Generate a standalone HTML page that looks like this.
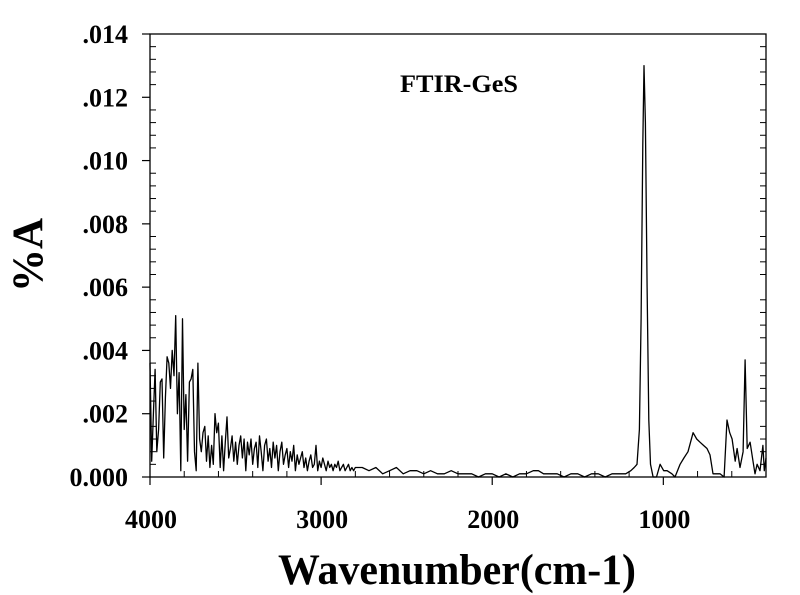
<!DOCTYPE html>
<html><head><meta charset="utf-8"><style>
html,body{margin:0;padding:0;background:#fff;}
svg{display:block;}
text{font-family:"Liberation Serif",serif;font-weight:bold;fill:#000;}
</style></head><body>
<svg id="chart" width="800" height="595" viewBox="0 0 800 595" xmlns="http://www.w3.org/2000/svg">
<text x="400" y="92" font-size="25" textLength="118" lengthAdjust="spacingAndGlyphs">FTIR-GeS</text>
<text transform="translate(42,255) rotate(-90)" text-anchor="middle" font-size="43">%A</text>
<text x="457" y="584" text-anchor="middle" font-size="43" textLength="358" lengthAdjust="spacingAndGlyphs">Wavenumber(cm-1)</text>
<g id="axes"></g>
<path id="spectrum" fill="none" stroke="#000" stroke-width="1.3" stroke-linejoin="round"></path>
</svg>
<script>
// dense region 4000 -> 2790, step 10
const denseStart = 4000, denseStep = 10;
const denseValues = [.0036,.0005,.0020,.0034,.0008,.0015,.0030,.0031,.0006,.0025,.0038,.0036,.0028,.0040,.0032,.0051,.0020,.0033,.0002,.0050,.0015,.0026,.0005,.0030,.0031,.0034,.0008,.0002,.0036,.0012,.0008,.0014,.0016,.0005,.0013,.0003,.0010,.0004,.0020,.0014,.0017,.0003,.0013,.0002,.0011,.0019,.0006,.0009,.0013,.0005,.0011,.0004,.0010,.0013,.0006,.0012,.0002,.0011,.0007,
.0012,.0004,.0009,.0011,.0003,.0013,.0008,.0002,.0010,.0012,.0005,.0009,.0003,.0011,.0006,.0010,.0002,.0008,.0011,.0004,.0007,.0009,.0003,.0008,.0005,.0010,.0002,.0007,.0004,.0006,.0008,.0003,.0006,.0002,.0005,.0007,.0003,.0004,.0010,.0002,.0005,.0003,.0006,.0004,.0002,.0005,.0003,.0004,.0002,.0004,.0003,.0005,.0002,.0003,.0004,.0002,.0003,.0004,.0002,.0003,.0002,.0003];
// sparse region, explicit wavenumbers
const sparseWn = [2760,2720,2680,2640,2600,2560,2520,2480,2440,2400,2360,2320,2280,2240,2200,2160,2120,2080,2040,2000,1960,1920,1880,1840,1800,1760,1730,1700,1660,1620,1580,1540,1500,1460,1420,1380,1340,1300,1260,1220,1190,1170,1154,1140,1130,1120,1113,1105,1095,1085,1075,1060,1040,1019,998,978,950,932,902,880,856,826,805,786,765,745,727,710,690,669,645,628,612,598,580,569,552,534,522,510,493,476,464,452,435,418,410,400];
const sparseValues = [.0003,.0002,.0003,.0001,.0002,.0003,.0001,.0002,.0002,.0001,.0002,.0001,.0001,.0002,.0001,.0001,.0001,.0000,.0001,.0001,.0000,.0001,.0000,.0001,.0001,.0002,.0002,.0001,.0001,.0001,.0000,.0001,.0001,.0000,.0001,.0001,.0000,.0001,.0001,.0001,.0002,.0003,.0004,.0015,.0050,.0105,.0130,.0112,.0060,.0018,.0004,.0000,.0000,.0004,.0002,.0002,.0001,.0000,.0004,.0006,.0008,.0014,.0012,.0011,.0010,.0009,.0007,.0001,.0001,.0001,.0000,.0018,.0014,.0012,.0005,.0009,.0003,.0008,.0037,.0009,.0011,.0005,.0001,.0004,.0002,.0010,.0002,.0006];
const yTicks = [0,0.002,0.004,0.006,0.008,0.010,0.012,0.014];
const yTickLabels = ["0.000",".002",".004",".006",".008",".010",".012",".014"];
const xTicks = [4000,3000,2000,1000];
const xTickLabels = ["4000","3000","2000","1000"];

const L=150,R=766,T=34,B=477, XMAX=4000, XMIN=400, YMAX=0.014;
const xs = w => L + (XMAX-w)/(XMAX-XMIN)*(R-L);
const ys = v => B - v/YMAX*(B-T);
const NS="http://www.w3.org/2000/svg";
const axes=document.getElementById('axes');
function mk(tag,attrs){const e=document.createElementNS(NS,tag);for(const k in attrs)e.setAttribute(k,attrs[k]);axes.appendChild(e);return e;}
const frame=mk('rect',{x:L,y:T,width:R-L,height:B-T,fill:'none',stroke:'#000','stroke-width':1.3});


yTicks.forEach((v,i)=>{
  const t=mk('line',{x1:L-8,x2:L,y1:ys(v),y2:ys(v),stroke:'#000','stroke-width':1.2});
  
  
  const lb=mk('text',{x:128,y:ys(v)+9,'text-anchor':'end','font-size':26});
  lb.textContent=yTickLabels[i];
  
  
});
for(let v=0.0004; v<YMAX; v+=0.0004){
  if(Math.abs(v/0.002-Math.round(v/0.002))<1e-6) continue;
  const a=mk('line',{x1:L,x2:L+6,y1:ys(v),y2:ys(v),stroke:'#000','stroke-width':1});
  
  
  const b=mk('line',{x1:R-6,x2:R,y1:ys(v),y2:ys(v),stroke:'#000','stroke-width':1});
  
  
}
xTicks.forEach((w,i)=>{
  const t=mk('line',{x1:xs(w),x2:xs(w),y1:B,y2:B+8,stroke:'#000','stroke-width':1.2});
  
  
  const lb=mk('text',{x:xs(w)+1,y:528,'text-anchor':'middle','font-size':26});
  lb.textContent=xTickLabels[i];
  
  
});
for(let w=3800; w>XMIN; w-=200){
  if(w%1000===0) continue;
  const a=mk('line',{x1:xs(w),x2:xs(w),y1:B-6,y2:B,stroke:'#000','stroke-width':1});
  
  
}
let d='';
denseValues.forEach((v,i)=>{d+=(i?'L':'M')+xs(denseStart-i*denseStep).toFixed(1)+' '+ys(v).toFixed(1);});
sparseWn.forEach((w,i)=>{d+='L'+xs(w).toFixed(1)+' '+ys(sparseValues[i]).toFixed(1);});
document.getElementById('spectrum').setAttribute('d',d);
</script>
</body></html>
